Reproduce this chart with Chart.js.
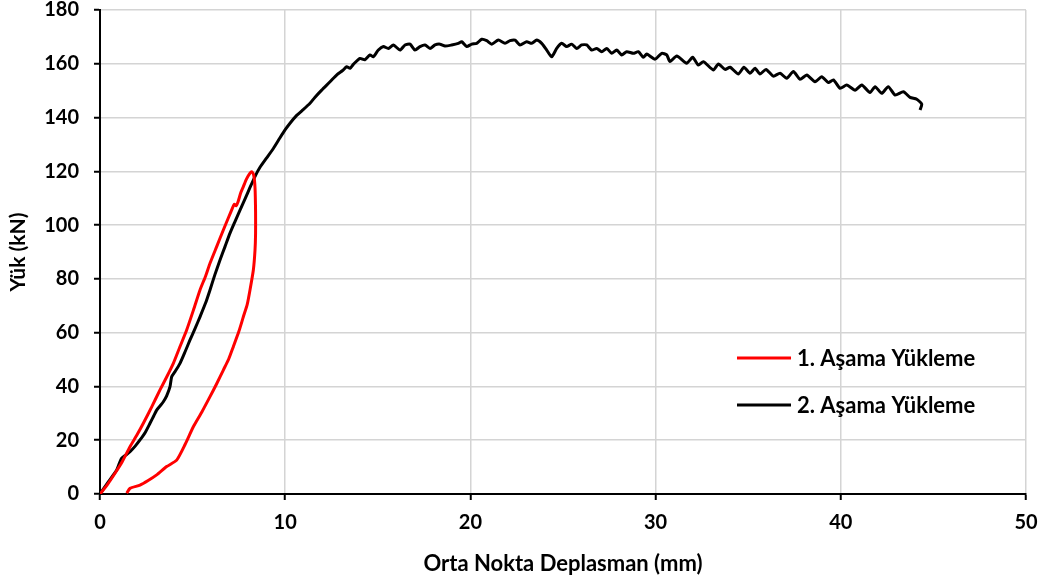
<!DOCTYPE html>
<html>
<head>
<meta charset="utf-8">
<script src="https://cdn.jsdelivr.net/npm/chart.js@4.4.0/dist/chart.umd.min.js"></script>
<style>
  html, body { margin: 0; padding: 0; background: #fff; }
  #wrap { width: 1049px; height: 583px; }
</style>
</head>
<body>
<div id="wrap"><canvas id="chart" width="1049" height="583"></canvas></div>
<script>
// 1. Aşama Yükleme (loading + unloading loop)
const stage1X = [0, 0.4, 0.81, 1.2, 1.62, 2.0, 2.34, 2.8, 3.24, 3.6, 3.96, 4.3, 4.68, 5.05, 5.4, 5.7, 5.94, 6.3, 6.66, 6.95, 7.15, 7.25, 7.35, 7.45, 7.6, 7.74, 7.9, 8.1, 8.2, 8.3,
  8.37, 8.4, 8.4, 8.37, 8.28, 8.1, 7.95, 7.74, 7.5, 7.2, 6.95, 6.66, 6.3, 5.94, 5.5, 5.04, 4.6, 4.14, 3.6, 3.06, 2.6, 2.16, 1.62, 1.44];
const stage1Y = [0, 3.5, 7.7, 12, 17.6, 22, 26.3, 32.5, 38.7, 43.5, 48.6, 54.5, 61, 68.5, 75.9, 81, 85.8, 92, 98.2, 103, 106.3, 107.8, 107.2, 108.6, 112, 114.3, 117, 119.3, 119.8, 118.6,
  114, 105, 97, 90.7, 83.3, 75.9, 70.5, 65.9, 60.5, 54.8, 50.2, 46.1, 41, 36.2, 30.5, 25, 18.5, 12.6, 10.2, 7.1, 5, 3.3, 2.1, 0.3];

// 2. Aşama Yükleme
const stage2X = [0, 0.45, 0.9, 1.05, 1.17, 1.4, 1.62, 1.9, 2.16, 2.45, 2.7, 2.9, 3.06, 3.25, 3.42, 3.6, 3.78, 3.87, 4.05, 4.32, 4.6, 4.86, 5.13, 5.4, 5.7, 5.94, 6.2, 6.48, 6.75, 7.02, 7.3, 7.56, 7.85, 8.1, 8.4, 8.64, 9.0, 9.36, 9.72, 10.0, 10.26, 10.62, 10.9, 11.34, 11.6, 11.97, 12.42, 12.8, 13.1, 13.32, 13.5, 13.68, 14.04, 14.3, 14.58, 14.76,
  15.03, 15.30, 15.57, 15.84, 16.20, 16.47, 16.74, 17.01, 17.28, 17.55, 17.82, 18.09, 18.36, 18.63, 18.99, 19.35, 19.53, 19.80, 20.07, 20.34, 20.61, 20.88, 21.15, 21.51, 21.87, 22.14, 22.41, 22.68, 23.04, 23.31, 23.58, 23.85, 24.12, 24.39, 24.66, 24.93, 25.20, 25.47, 25.74, 26.01, 26.28, 26.55, 26.82, 27.09, 27.36, 27.63, 27.90, 28.17, 28.44, 28.80, 29.07, 29.34, 29.52, 29.97, 30.33, 30.60, 30.78, 31.14, 31.68, 32.00, 32.31, 32.58, 33.12, 33.39, 33.75, 34.02, 34.47, 34.77, 35.10, 35.37, 35.64, 35.96, 36.36, 36.72, 37.08, 37.44, 37.80, 38.16, 38.61, 38.97, 39.33, 39.60, 39.96, 40.32, 40.77, 41.13, 41.58, 41.85, 42.21, 42.56, 42.93, 43.38, 43.74, 44.10, 44.37, 44.28];
const stage2Y = [0, 4.5, 8.9, 11.5, 13.3, 14.5, 15.7, 17.8, 20.1, 23, 26.3, 29, 31.2, 32.8, 34.3, 36.5, 39.9, 43.6, 45.5, 48.6, 53, 57.3, 61.5, 65.9, 71, 75.9, 81.5, 87, 92, 97, 101.5, 105.6, 110, 114, 118.5, 121.5, 125, 128.5, 132.5, 135.5, 137.9, 140.8, 142.5, 145.3, 147.5, 150.2, 153.3, 156, 157.5, 158.9, 158.3, 159.8, 162, 161.5, 163.3, 162.6,
  165.1, 166.4, 165.7, 167.0, 165.1, 167.0, 167.3, 165.1, 166.4, 167.0, 165.7, 167.0, 167.3, 166.6, 167.0, 167.6, 168.2, 166.4, 167.3, 167.6, 169.1, 168.6, 167.3, 168.8, 167.6, 168.6, 168.8, 167.0, 168.2, 167.6, 168.8, 167.6, 165.1, 162.6, 165.7, 167.6, 166.4, 167.3, 165.7, 167.0, 167.0, 165.1, 165.7, 164.5, 165.7, 163.9, 165.1, 163.3, 164.5, 163.9, 164.5, 162.4, 163.6, 161.7, 163.9, 163.3, 160.8, 162.9, 160.2, 162.4, 159.5, 160.8, 157.7, 159.9, 157.9, 158.7, 156.2, 158.7, 156.5, 158.3, 156.2, 157.9, 155.4, 156.5, 154.6, 157.1, 154.2, 155.8, 153.3, 155.2, 153.0, 154.0, 150.9, 152.1, 150.2, 152.1, 149.3, 151.5, 149.0, 151.5, 148.4, 149.6, 147.5, 146.8, 145.0, 142.8];

const seriesNames = ['1. Aşama Yükleme', '2. Aşama Yükleme'];
const seriesColors = ['#ff0000', '#000000'];

const xTicks = [0, 10, 20, 30, 40, 50];
const yTicks = [0, 20, 40, 60, 80, 100, 120, 140, 160, 180];

const FONT = 'Lato';

function pairs(xs, ys) {
  return xs.map((x, i) => ({ x: x, y: ys[i] }));
}

// legend drawn inside the plot area, lower right
const insideLegend = {
  id: 'insideLegend',
  afterDatasetsDraw(chart) {
    const ctx = chart.ctx;
    const rows = [358, 405];
    ctx.save();
    ctx.font = 'bold 22px ' + FONT;
    ctx.textBaseline = 'middle';
    ctx.textAlign = 'left';
    chart.data.datasets.forEach((ds, i) => {
      const y = rows[i];
      ctx.strokeStyle = ds.borderColor;
      ctx.lineWidth = 3;
      ctx.beginPath();
      ctx.moveTo(737, y);
      ctx.lineTo(791, y);
      ctx.stroke();
      ctx.fillStyle = '#000';
      ctx.fillText(ds.label, 797, y + 1);
    });
    ctx.restore();
  }
};

new Chart(document.getElementById('chart'), {
  type: 'scatter',
  data: {
    datasets: [
      { label: seriesNames[0], data: pairs(stage1X, stage1Y), borderColor: seriesColors[0], backgroundColor: seriesColors[0] },
      { label: seriesNames[1], data: pairs(stage2X, stage2Y), borderColor: seriesColors[1], backgroundColor: seriesColors[1] }
    ]
  },
  options: {
    responsive: false,
    animation: false,
    showLine: true,
    layout: { padding: { top: 10, right: 23, left: 0, bottom: 0 } },
    elements: {
      point: { radius: 0, hoverRadius: 0 },
      line: { borderWidth: 3, tension: 0.2, fill: false }
    },
    plugins: {
      legend: { display: false },
      tooltip: { enabled: false }
    },
    scales: {
      x: {
        type: 'linear',
        min: 0, max: 50,
        afterBuildTicks: s => { s.ticks = xTicks.map(v => ({ value: v })); },
        afterFit: s => { s.height = 89; s.paddingLeft = 0; s.paddingRight = 0; },
        grid: { color: '#d4d4d4', lineWidth: 1.5, tickColor: '#000', tickLength: 6, tickWidth: 2 },
        border: { color: '#000', width: 2 },
        ticks: { color: '#000', font: { family: FONT, size: 20, weight: 'bold' }, padding: 11 },
        title: {
          display: true, text: 'Orta Nokta Deplasman (mm)', color: '#000',
          font: { family: FONT, size: 22, weight: 'bold' }, padding: { top: 0, bottom: 6 }
        }
      },
      y: {
        type: 'linear',
        min: 0, max: 180,
        afterBuildTicks: s => { s.ticks = yTicks.map(v => ({ value: v })); },
        afterFit: s => { s.width = 100; s.paddingTop = 0; s.paddingBottom = 0; },
        grid: { color: '#d4d4d4', lineWidth: 1.5, tickColor: '#000', tickLength: 6, tickWidth: 2 },
        border: { color: '#000', width: 2 },
        ticks: { color: '#000', font: { family: FONT, size: 20, weight: 'bold' }, padding: 15 },
        title: {
          display: true, text: 'Yük (kN)', color: '#000',
          font: { family: FONT, size: 21, weight: 'bold' }, padding: { top: 6, bottom: 0 }
        }
      }
    }
  },
  plugins: [insideLegend]
});
</script>
</body>
</html>
